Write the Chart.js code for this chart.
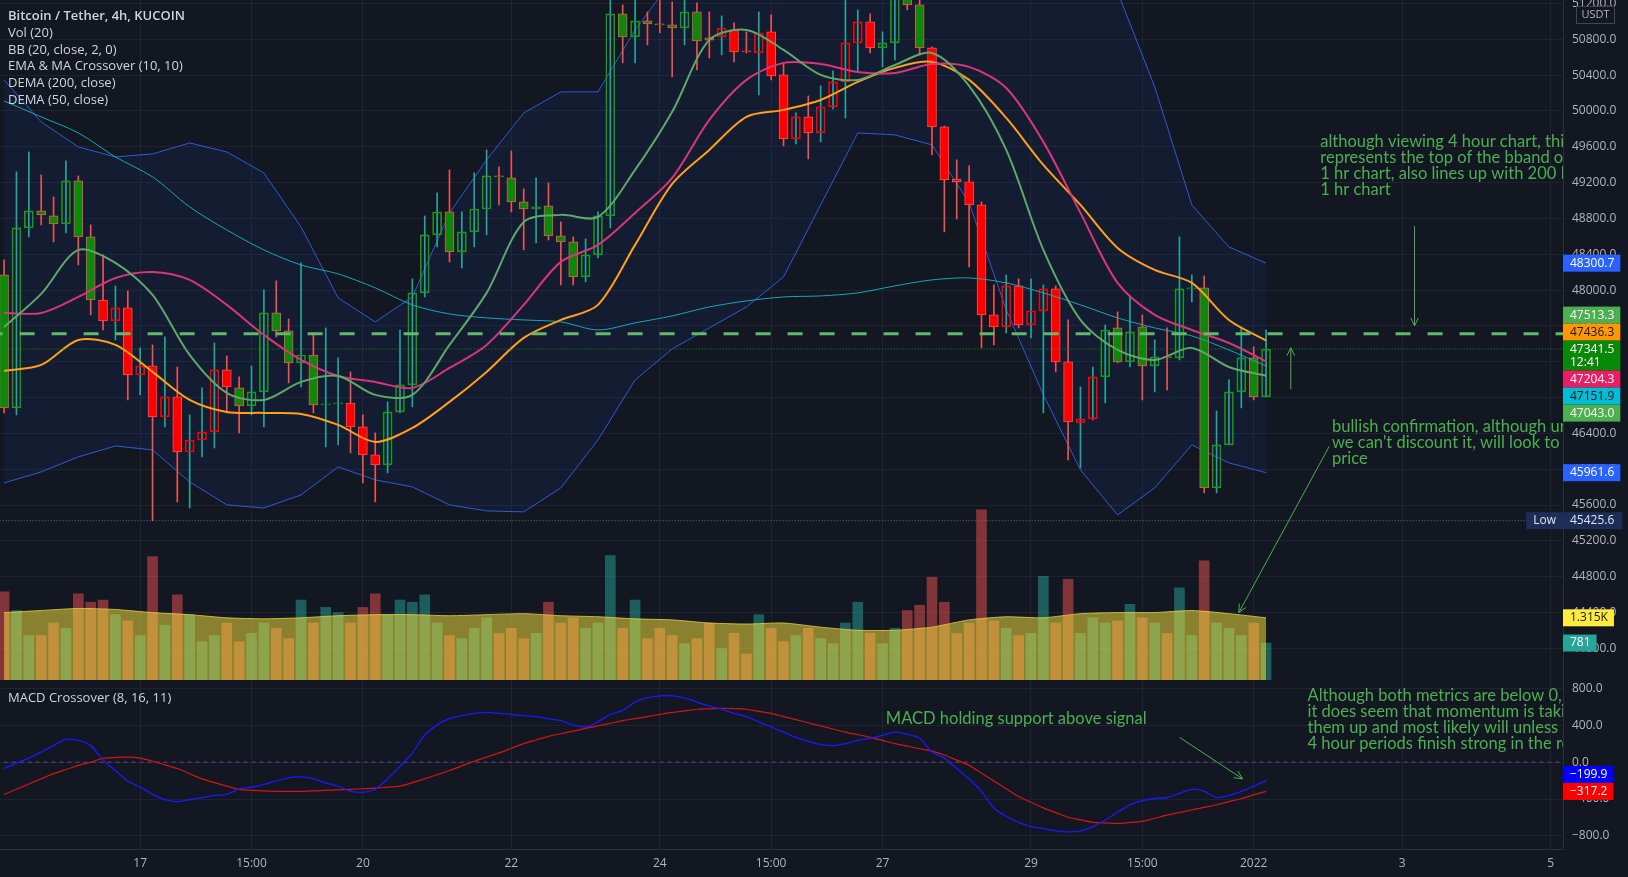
<!DOCTYPE html>
<html>
<head>
<meta charset="utf-8">
<script src="https://cdn.jsdelivr.net/npm/chart.js@4.4.1/dist/chart.umd.min.js"></script>
<style>
  body { margin: 0; background: #131722; overflow: hidden; }
  #wrap { position: relative; width: 1628px; height: 877px; }
  canvas { position: absolute; left: 0; }
  #priceChart { top: 0; }
  #macdChart { top: 680px; }
</style>
</head>
<body>
<div id="wrap">
  <canvas id="priceChart" width="1628" height="680"></canvas>
  <canvas id="macdChart" width="1628" height="197"></canvas>
</div>
<script>
// ---- data: one 4h candle per index, index 0 = Dec 15 04:00 ----
const opens = [48170,46685,48694,48884,48828,48739,49219,48594,47890,47656,
  47801,47053,47154,46584,46808,46193,46327,46417,47109,46908,
  46707,46863,47745,47544,47187,47276,46718,46729,46740,46473,
  46160,46048,46640,46942,47969,48616,48873,48426,48650,48906,
  49275,49253,48985,48906,48940,48605,48538,48147,48393,48828,
  51084,50827,51006,50972,50961,50927,51106,50818,50830,50905,
  50671,50648,50883,50403,49688,49934,49755,50045,50324,50760,
  50994,50704,50760,51262,51184,50704,49822,49241,49208,48951,
  47723,47589,48047,47611,47768,48013,47198,46517,46562,47031,
  47578,47198,47589,47154,47254,47243,48013,48025,45792,46272,
  46863,47243,46808];
const highs = [48337,49320,49543,49286,49040,49442,49275,48728,48393,48047,
  47991,47355,47388,47477,47142,46607,46908,47410,47265,47031,
  47154,48002,48103,47678,48304,47522,47578,47243,47087,46607,
  46406,46752,47555,48125,48828,49085,49342,48873,49308,49565,
  49375,49554,49130,49253,49197,48761,48594,48572,48873,51296,
  51184,51273,51106,51262,51218,51273,51207,51106,51061,50983,
  50883,51106,51073,50537,49978,50168,50280,50447,51273,51128,
  51084,50883,51407,51374,51240,50715,49833,49454,49387,48985,
  48058,48170,48125,48125,48058,48047,47667,46919,47142,47611,
  47757,47924,47723,47444,47578,48594,48170,48158,46651,46997,
  47578,47366,47555];
const lows = [46629,46607,48594,48728,48538,48639,48281,47723,47555,47444,
  46774,46830,45425.6,46473,45635,45568,46138,46238,46629,46406,
  46607,46473,47477,46964,46919,46629,46249,46272,46182,45847,
  45635,45959,46629,46696,47924,48482,48315,48248,48482,48616,
  48951,48873,48449,48527,48560,48058,48058,48092,48359,48694,
  50537,50537,50738,50872,50380,50738,50458,50592,50626,50548,
  50648,50179,50347,49610,49632,49465,49655,50023,49922,50436,
  50648,50492,50570,51128,50626,49509,48650,48795,48259,47355,
  47388,47522,47578,47466,46629,47087,46104,46015,46551,46741,
  47187,47142,46774,46863,46886,47221,47868,45736,45736,46272,
  46685,46774,46808];
const closes = [46685,48694,48884,48840,48739,49219,48594,47890,47656,47801,
  47053,47154,46584,46808,46193,46327,46417,47109,46919,46707,
  46863,47745,47544,47187,47276,46718,46729,46740,46473,46160,
  46048,46640,46942,47969,48616,48873,48426,48650,48906,49275,
  49264,48985,48906,48929,48605,48538,48147,48393,48828,51084,
  50827,51006,50972,50961,50927,51106,50782,50790,50924,50659,
  50659,50872,50392,49688,49934,49755,50045,50324,50760,50994,
  50704,50760,51262,51184,50704,49822,49230,49208,48951,47723,
  47589,48047,47611,47768,48013,47198,46528,46562,47031,47555,
  47198,47533,47154,47254,47243,48013,48025,45792,46272,46863,
  47243,46808,47341.5];
const volumes = [1864,1469,940,940,1205,1095,1820,1645,1690,1381,
  1249,940,2611,1160,1800,1381,810,940,1205,810,
  985,1205,1095,875,1690,1205,1535,1425,1205,1535,
  1820,1381,1690,1645,1800,1205,940,875,1095,1315,
  985,1095,875,985,1645,1205,1315,1095,1205,2632,
  1095,1690,875,1095,940,767,875,1205,660,985,
  550,1381,1095,810,940,1095,875,767,1205,1645,
  985,767,1095,1469,1580,2170,1645,985,1205,3598,
  1249,1095,940,985,2193,1205,2127,985,1315,1205,
  1249,1600,1315,1205,985,1950,940,2522,1205,1095,
  940,1205,781];
const macdLine = [-69,-10,44,110,179,246,235,179,25,-91,
  -204,-271,-350,-406,-428,-406,-384,-361,-350,-290,
  -270,-240,-204,-170,-159,-181,-226,-260,-316,-327,
  -294,-181,-46,100,291,404,471,505,528,539,
  528,516,505,494,471,449,404,381,437,516,
  561,651,696,719,719,696,651,606,573,528,
  494,437,381,325,269,224,190,179,201,235,
  258,291,325,302,258,110,44,-69,-181,-316,
  -496,-586,-653,-698,-721,-744,-755,-744,-698,-630,
  -540,-462,-417,-394,-383,-339,-294,-316,-383,-361,
  -316,-260,-199.9];
const signalLine = [-350,-293,-237,-180,-125,-80,-35,0,40,50,
  55,44,10,-30,-69,-125,-181,-222,-260,-295,
  -305,-312,-316,-317,-316,-311,-305,-300,-294,-288,
  -282,-271,-260,-222,-181,-136,-91,-40,10,55,
  100,150,201,240,280,308,336,365,393,421,
  449,472,494,517,539,556,573,578,584,580,
  573,550,528,494,460,427,393,359,325,297,
  269,235,201,173,145,120,78,22,-35,-120,
  -204,-288,-372,-434,-496,-547,-597,-625,-653,-659,
  -664,-653,-642,-608,-574,-546,-518,-490,-462,-428,
  -394,-355,-317.2];

// indicator lines, sampled every third candle
const lineIdx = [0,3,6,9,12,15,18,21,24,27,30,33,36,39,42,45,48,51,54,57,60,63,66,69,72,75,78,81,84,87,90,93,96,99,102];
const bbUpper = [50347,49878,49599,49487,49521,49643,49543,49308,48706,47913,47645,47924,48862,49454,49978,50213,50213,50905,51463,51798,52022,52133,52189,52245,52245,52133,52022,51910,51742,51575,51329,50269,48951,48482,48300.7];
const bbLower = [45847,45970,46138,46260,46216,45859,45602,45568,45713,46026,45881,45803,45602,45535,45524,45792,46327,46997,47343,47578,47812,48147,48951,49755,49733,49621,48974,47779,46830,45992,45490,45792,46272,46071,45961.6];
const emaLine = [47589,47958,48449,48304,47946,47276,46852,46774,46975,47042,46830,46830,47388,47969,48761,48840,48817,49342,49990,50793,50905,50682,50403,50347,50514,50648,50280,49565,48449,47667,47332,47221,47355,47142,47043];
const maLine = [47745,47745,47924,48136,48203,48114,47835,47500,47221,47042,46975,46908,47131,47388,47835,48315,48505,48862,49253,49900,50347,50537,50525,50436,50425,50525,50492,50257,49655,48862,48080,47723,47555,47410,47204.3];
const dema50 = [47098,47165,47444,47388,47087,46774,46640,46629,46618,46495,46305,46461,46752,47087,47466,47667,47835,48505,49186,49565,49934,50012,50123,50324,50481,50548,50347,49922,49398,48951,48471,48225,48080,47667,47436.3];
const dema200 = [50112,49934,49755,49487,49264,48929,48672,48449,48281,48181,48025,47835,47734,47690,47667,47645,47555,47634,47712,47812,47879,47924,47935,47969,48047,48114,48136,48080,47969,47835,47690,47578,47489,47332,47151.9];
const volMa = [1425,1469,1513,1491,1425,1381,1315,1293,1315,1359,1381,1381,1359,1381,1403,1359,1337,1293,1271,1205,1183,1205,1117,1051,1051,1117,1271,1337,1315,1403,1425,1425,1469,1403,1315];

const dayTicks = [11,20,29,41,53,62,71,83,92,101,113,125];
const dayLabels = ['17','15:00','20','22','24','15:00','27','29','15:00','2022','3','5'];
const priceTicks = [44000,44400,44800,45200,45600,46000,46400,46800,47200,47600,48000,48400,48800,49200,49600,50000,50400,50800,51200];
const macdTicks = [-800,-400,0,400,800];

const hLine = 47513.3;
const lastPrice = 47341.5;
const lowPrice = 45425.6;
const volMaLast = 1315;

// ---- look ----
const BG = '#131722', GRID = '#1f2330', AXIS = '#2a2e39', TXT = '#b2b5be';
const GREEN = '#0a8a0a', RED = '#ff0000', NOTE = '#4caf50';
const FONT = '"Open Sans", sans-serif';
const NOTE_FONT = '16.5px Lato, sans-serif';
const X_MIN = -0.33, X_MAX = 126;

// bar colour follows the MACD crossover, body is hollow on an up candle
const barUp = macdLine.map((m, i) => m >= signalLine[i]);
const isDown = i => closes[i] < opens[i];

const pts = arr => lineIdx.map((x, k) => ({ x, y: arr[k] }));
const flat = v => [{ x: X_MIN - 1, y: v }, { x: X_MAX + 1, y: v }];

function arrow(ctx, x1, y1, x2, y2) {
  const a = Math.atan2(y2 - y1, x2 - x1), L = 9;
  ctx.beginPath();
  ctx.moveTo(x1, y1); ctx.lineTo(x2, y2);
  ctx.moveTo(x2 - L * Math.cos(a - 0.45), y2 - L * Math.sin(a - 0.45));
  ctx.lineTo(x2, y2);
  ctx.lineTo(x2 - L * Math.cos(a + 0.45), y2 - L * Math.sin(a + 0.45));
  ctx.stroke();
}

// price tags on the right axis; the anchored tag stays, others move away from it
function drawTags(ctx, left, tags) {
  ctx.font = '12px ' + FONT;
  tags.forEach(t => { t.h = t.sub ? 30 : 17; t.top = t.y - 8.5; });
  tags.sort((a, b) => a.y - b.y);
  let ai = tags.findIndex(t => t.anchor);
  if (ai < 0) ai = 0;
  for (let i = ai + 1; i < tags.length; i++) {
    const p = tags[i - 1];
    tags[i].top = Math.max(tags[i].top, p.top + p.h);
  }
  for (let i = ai - 1; i >= 0; i--) {
    const n = tags[i + 1];
    if (tags[i].top + tags[i].h > n.top) tags[i].top = n.top - tags[i].h;
  }
  tags.forEach(t => {
    const w = ctx.measureText(t.text).width + 13;
    ctx.fillStyle = t.bg;
    ctx.fillRect(left, t.top, w, t.h);
    ctx.fillStyle = t.fg;
    ctx.textAlign = 'left'; ctx.textBaseline = 'middle';
    ctx.fillText(t.text, left + 7, t.top + 8.5);
    if (t.sub) ctx.fillText(t.sub, left + 7, t.top + 22);
  });
}

function xAxis(show) {
  return {
    type: 'linear', min: X_MIN, max: X_MAX, offset: false,
    afterBuildTicks: s => { s.ticks = dayTicks.map(v => ({ value: v })); },
    afterFit: s => { s.height = show ? 28 : 0; s.paddingLeft = 0; s.paddingRight = 0; },
    grid: { color: GRID, drawTicks: false, offset: false },
    border: { display: show, color: AXIS },
    ticks: {
      display: show, autoSkip: false, maxRotation: 0, padding: 7, color: TXT,
      font: { family: FONT, size: 12 },
      callback: (v, i) => dayLabels[i]
    }
  };
}

function yAxis(min, max, ticks, fmt) {
  return {
    position: 'right', min, max,
    afterBuildTicks: s => { s.ticks = ticks.map(v => ({ value: v })); },
    afterFit: s => { s.width = 65; s.paddingTop = 0; s.paddingBottom = 0; },
    grid: { color: GRID, drawTicks: false },
    border: { color: AXIS },
    ticks: { color: TXT, padding: 9, font: { family: FONT, size: 12 }, callback: fmt }
  };
}

const legendLines = ['Bitcoin / Tether, 4h, KUCOIN', 'Vol (20)', 'BB (20, close, 2, 0)',
  'EMA & MA Crossover (10, 10)', 'DEMA (200, close)', 'DEMA (50, close)'];

const priceNotes = [
  { idx: 106.38, price: 49658, lines: ['although viewing 4 hour chart, this line', 'represents the top of the bband on the', '1 hr chart, also lines up with 200 DEMA on', '1 hr chart'] },
  { idx: 107.33, price: 46476, lines: ['bullish confirmation, although unlikely', "we can't discount it, will look to this", 'price'] }
];
const priceArrows = [[114.0, 48713, 114.0, 47601], [104.0, 46892, 104.0, 47357], [107.1, 46255, 99.8, 44400]];

const priceOverlay = {
  id: 'priceOverlay',
  afterDraw(chart) {
    const { ctx, chartArea: a, scales } = chart;
    const x = scales.x, y = scales.y, v = scales.vol;
    ctx.save();
    ctx.textAlign = 'left'; ctx.textBaseline = 'middle';
    ctx.fillStyle = '#d1d4dc';
    legendLines.forEach((t, k) => {
      ctx.font = (k === 0 ? '600 ' : '') + '13px ' + FONT;
      ctx.fillText(t, 8, 16 + k * 16.9);
    });

    ctx.save();
    ctx.beginPath(); ctx.rect(a.left, a.top, a.width, a.height); ctx.clip();
    ctx.fillStyle = NOTE; ctx.font = NOTE_FONT;
    priceNotes.forEach(n => {
      const px = x.getPixelForValue(n.idx), py = y.getPixelForValue(n.price);
      n.lines.forEach((t, k) => ctx.fillText(t, px, py + k * 16));
    });
    ctx.strokeStyle = NOTE; ctx.lineWidth = 1;
    priceArrows.forEach(r => arrow(ctx, x.getPixelForValue(r[0]), y.getPixelForValue(r[1]),
      x.getPixelForValue(r[2]), y.getPixelForValue(r[3])));
    ctx.restore();

    const left = a.right;
    drawTags(ctx, left, [
      { y: y.getPixelForValue(bbUpper[bbUpper.length - 1]), text: bbUpper[bbUpper.length - 1].toFixed(1), bg: '#2962ff', fg: '#ffffff' },
      { y: y.getPixelForValue(hLine), text: hLine.toFixed(1), bg: '#4caf50', fg: '#ffffff' },
      { y: y.getPixelForValue(dema50[dema50.length - 1]), text: dema50[dema50.length - 1].toFixed(1), bg: '#ff9800', fg: '#131722' },
      { y: y.getPixelForValue(lastPrice), text: lastPrice.toFixed(1), sub: '12:41', bg: '#088a08', fg: '#ffffff', anchor: true },
      { y: y.getPixelForValue(maLine[maLine.length - 1]), text: maLine[maLine.length - 1].toFixed(1), bg: '#e91e63', fg: '#ffffff' },
      { y: y.getPixelForValue(dema200[dema200.length - 1]), text: dema200[dema200.length - 1].toFixed(1), bg: '#00bcd4', fg: '#131722' },
      { y: y.getPixelForValue(emaLine[emaLine.length - 1]), text: emaLine[emaLine.length - 1].toFixed(1), bg: '#4caf50', fg: '#ffffff' },
      { y: y.getPixelForValue(bbLower[bbLower.length - 1]), text: bbLower[bbLower.length - 1].toFixed(1), bg: '#2962ff', fg: '#ffffff' }
    ]);
    drawTags(ctx, left, [
      { y: v.getPixelForValue(volMaLast), text: (volMaLast / 1000).toFixed(3) + 'K', bg: '#ffeb3b', fg: '#131722' },
      { y: v.getPixelForValue(volumes[volumes.length - 1]), text: String(volumes[volumes.length - 1]), bg: '#26a69a', fg: '#ffffff' }
    ]);

    // session low marker
    const ly = y.getPixelForValue(lowPrice);
    ctx.font = '12px ' + FONT;
    const lw = ctx.measureText('Low').width + 14, vw = ctx.measureText(lowPrice.toFixed(1)).width + 15;
    ctx.fillStyle = '#1c2d57';
    ctx.fillRect(left - lw, ly - 8.5, lw, 17);
    ctx.fillRect(left, ly - 8.5, vw, 17);
    ctx.fillStyle = '#e0e3eb';
    ctx.fillText('Low', left - lw + 7, ly);
    ctx.fillText(lowPrice.toFixed(1), left + 7, ly);

    // currency box
    ctx.fillStyle = BG; ctx.fillRect(left + 13, 6, 38, 17);
    ctx.strokeStyle = '#434651'; ctx.lineWidth = 1;
    ctx.strokeRect(left + 13.5, 6.5, 38, 17);
    ctx.fillStyle = TXT; ctx.font = '11px ' + FONT; ctx.textAlign = 'center';
    ctx.fillText('USDT', left + 32.5, 15);
    ctx.restore();
  }
};

new Chart(document.getElementById('priceChart'), {
  type: 'bar',
  data: {
    datasets: [
      { type: 'bar', yAxisID: 'vol', order: 20, grouped: false, barThickness: 10,
        data: volumes.map((vv, i) => ({ x: i, y: vv })),
        backgroundColor: c => isDown(c.dataIndex) ? 'rgba(239,83,80,0.5)' : 'rgba(38,166,154,0.5)' },
      { type: 'line', yAxisID: 'vol', order: 19, data: pts(volMa), borderColor: 'rgba(230,210,70,0.8)',
        borderWidth: 1, backgroundColor: 'rgba(255,235,59,0.5)', fill: 'origin', pointRadius: 0, tension: 0.2 },
      { type: 'line', order: 18, data: pts(bbUpper), borderColor: '#2f5bd8', borderWidth: 1, pointRadius: 0,
        fill: '+1', backgroundColor: 'rgba(41,98,255,0.07)' },
      { type: 'line', order: 17, data: pts(bbLower), borderColor: '#2f5bd8', borderWidth: 1, pointRadius: 0, fill: false },
      { type: 'bar', order: 12, grouped: false, barThickness: 1,
        data: closes.map((c, i) => ({ x: i, y: [lows[i], highs[i]] })),
        backgroundColor: c => isDown(c.dataIndex) ? '#ef5350' : '#26a69a' },
      { type: 'bar', order: 11, grouped: false, barThickness: 9, minBarLength: 1,
        borderWidth: 1, borderSkipped: false,
        data: closes.map((c, i) => ({ x: i, y: [opens[i], c] })),
        backgroundColor: c => isDown(c.dataIndex) ? (barUp[c.dataIndex] ? GREEN : RED) : 'rgba(0,0,0,0)',
        borderColor: c => isDown(c.dataIndex) ? '#ef5350' : (barUp[c.dataIndex] ? '#189a18' : RED) },
      { type: 'line', order: 5, data: pts(dema200), borderColor: '#16a7b8', borderWidth: 1, pointRadius: 0, tension: 0.3 },
      { type: 'line', order: 4, data: pts(dema50), borderColor: '#ff9f1a', borderWidth: 2, pointRadius: 0, tension: 0.3 },
      { type: 'line', order: 3, data: pts(maLine), borderColor: '#d9357a', borderWidth: 2, pointRadius: 0, tension: 0.3 },
      { type: 'line', order: 2, data: pts(emaLine), borderColor: '#5ea86a', borderWidth: 2, pointRadius: 0, tension: 0.3 },
      { type: 'line', order: 1, data: flat(hLine), borderColor: '#62b86c', borderWidth: 3, borderDash: [15, 17], pointRadius: 0 },
      { type: 'line', order: 0, data: flat(lastPrice), borderColor: '#1c8c1c', borderWidth: 1, borderDash: [1, 2], pointRadius: 0 },
      { type: 'line', order: 0, data: flat(lowPrice), borderColor: '#6b7080', borderWidth: 1, borderDash: [1, 2], pointRadius: 0 }
    ]
  },
  options: {
    responsive: false, animation: false, devicePixelRatio: 1, events: [],
    layout: { padding: 0, autoPadding: false },
    plugins: { legend: { display: false }, tooltip: { enabled: false } },
    scales: {
      x: xAxis(false),
      y: yAxis(43647, 51239, priceTicks, v => v.toFixed(1)),
      vol: { display: false, min: 0, max: 14376 }
    }
  },
  plugins: [priceOverlay]
});

const macdNotes = [
  { idx: 105.35, value: 715, lines: ['Although both metrics are below 0,', 'it does seem that momentum is taking', 'them up and most likely will unless the', '4 hour periods finish strong in the red'] },
  { idx: 71.27, value: 471, lines: ['MACD holding support above signal'] }
];
const macdArrows = [[95.0, 269, 100.1, -181]];
const fmtMacd = v => (v < 0 ? '\u2212' : '') + Math.abs(v).toFixed(1);

const macdOverlay = {
  id: 'macdOverlay',
  afterDraw(chart) {
    const { ctx, chartArea: a, scales } = chart;
    const x = scales.x, y = scales.y;
    ctx.save();
    ctx.textAlign = 'left'; ctx.textBaseline = 'middle';
    ctx.fillStyle = '#d1d4dc'; ctx.font = '13px ' + FONT;
    ctx.fillText('MACD Crossover (8, 16, 11)', 8, 18);
    ctx.save();
    ctx.beginPath(); ctx.rect(a.left, a.top, a.width, a.height); ctx.clip();
    ctx.fillStyle = NOTE; ctx.font = NOTE_FONT;
    macdNotes.forEach(n => {
      const px = x.getPixelForValue(n.idx), py = y.getPixelForValue(n.value);
      n.lines.forEach((t, k) => ctx.fillText(t, px, py + k * 16));
    });
    ctx.strokeStyle = NOTE; ctx.lineWidth = 1;
    macdArrows.forEach(r => arrow(ctx, x.getPixelForValue(r[0]), y.getPixelForValue(r[1]),
      x.getPixelForValue(r[2]), y.getPixelForValue(r[3])));
    ctx.restore();
    drawTags(ctx, a.right, [
      { y: y.getPixelForValue(macdLine[macdLine.length - 1]), text: fmtMacd(macdLine[macdLine.length - 1]), bg: '#0000ff', fg: '#ffffff' },
      { y: y.getPixelForValue(signalLine[signalLine.length - 1]), text: fmtMacd(signalLine[signalLine.length - 1]), bg: '#ff0000', fg: '#ffffff', anchor: true }
    ]);
    ctx.restore();
  }
};

new Chart(document.getElementById('macdChart'), {
  type: 'line',
  data: {
    datasets: [
      { order: 3, data: flat(0), borderColor: 'rgba(126,87,194,0.7)', borderWidth: 1, borderDash: [4, 4], pointRadius: 0 },
      { order: 2, data: signalLine.map((s, i) => ({ x: i, y: s })), borderColor: '#d41515', borderWidth: 1.2, pointRadius: 0, tension: 0.3 },
      { order: 1, data: macdLine.map((m, i) => ({ x: i, y: m })), borderColor: '#1a1aff', borderWidth: 1.3, pointRadius: 0, tension: 0.3 }
    ]
  },
  options: {
    responsive: false, animation: false, devicePixelRatio: 1, events: [],
    layout: { padding: 0, autoPadding: false },
    plugins: { legend: { display: false }, tooltip: { enabled: false } },
    scales: {
      x: xAxis(true),
      y: yAxis(-941, 890, macdTicks, fmtMacd)
    }
  },
  plugins: [macdOverlay]
});
</script>
</body>
</html>
